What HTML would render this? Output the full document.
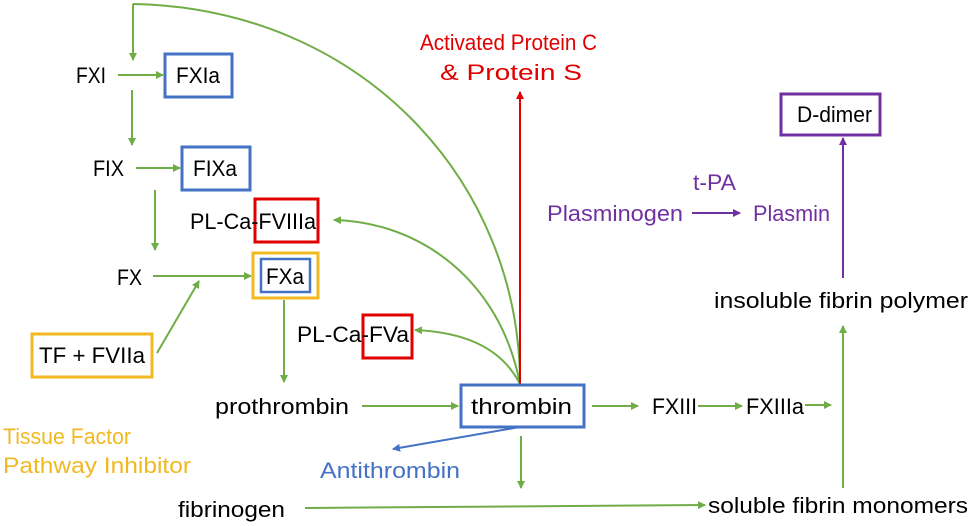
<!DOCTYPE html>
<html><head><meta charset="utf-8"><style>
html,body{margin:0;padding:0;background:#fff;}
svg{display:block;font-family:"Liberation Sans",sans-serif;font-size:22px;}
</style></head><body>
<svg width="973" height="526" viewBox="0 0 973 526" xmlns="http://www.w3.org/2000/svg">
<defs>
<marker id="g" markerWidth="8" markerHeight="8" refX="7" refY="4" orient="auto" markerUnits="userSpaceOnUse"><path d="M0,0 L8,4 L0,8z" fill="#70AD47"/></marker>
<marker id="r" markerWidth="8" markerHeight="8" refX="7" refY="4" orient="auto" markerUnits="userSpaceOnUse"><path d="M0,0 L8,4 L0,8z" fill="#E00000"/></marker>
<marker id="b" markerWidth="8" markerHeight="8" refX="7" refY="4" orient="auto" markerUnits="userSpaceOnUse"><path d="M0,0 L8,4 L0,8z" fill="#4472C4"/></marker>
<marker id="p" markerWidth="8" markerHeight="8" refX="7" refY="4" orient="auto" markerUnits="userSpaceOnUse"><path d="M0,0 L8,4 L0,8z" fill="#7030A0"/></marker>
</defs>
<g fill="none" stroke="#70AD47" stroke-width="2">
<path d="M133,4 L133,60" marker-end="url(#g)"/>
<path d="M133,4 C360,8 520,180 520,384"/>
<path d="M118,75 L163,75" marker-end="url(#g)"/>
<path d="M132,90 L132,145" marker-end="url(#g)"/>
<path d="M136,168 L180,168" marker-end="url(#g)"/>
<path d="M155,190 L155,250" marker-end="url(#g)"/>
<path d="M153,276 L251,276" marker-end="url(#g)"/>
<path d="M157,353 L199,281" marker-end="url(#g)"/>
<path d="M284,300 L284,382" marker-end="url(#g)"/>
<path d="M362,406 L458,406" marker-end="url(#g)"/>
<path d="M592,406 L638,406" marker-end="url(#g)"/>
<path d="M698,406 L742,406" marker-end="url(#g)"/>
<path d="M805,405 L831,405" marker-end="url(#g)"/>
<path d="M843,488 L843,326" marker-end="url(#g)"/>
<path d="M521,436 L521,488" marker-end="url(#g)"/>
<path d="M305,508 L705,505" marker-end="url(#g)"/>
<path d="M520,384 C500,280 420,222 334,220" marker-end="url(#g)"/>
<path d="M520,384 C500,345 460,332 415,330" marker-end="url(#g)"/>
</g>
<path d="M520,384 L520,92" stroke="#E00000" stroke-width="2" fill="none" marker-end="url(#r)"/>
<path d="M520,427 L393,449" stroke="#4472C4" stroke-width="2" fill="none" marker-end="url(#b)"/>
<path d="M692,213 L740,213" stroke="#7030A0" stroke-width="2" fill="none" marker-end="url(#p)"/>
<path d="M843,278 L843,138" stroke="#7030A0" stroke-width="2" fill="none" marker-end="url(#p)"/>
<g fill="#fff" stroke-width="3">
<rect x="165" y="54" width="67" height="43" stroke="#4472C4"/>
<rect x="182" y="147" width="68" height="43" stroke="#4472C4"/>
<rect x="255" y="199" width="63" height="43" stroke="#E00000"/>
<rect x="253" y="253" width="65" height="45" stroke="#F2B822"/>
<rect x="261" y="259" width="49" height="33" stroke="#4472C4" stroke-width="2.5"/>
<rect x="32" y="334" width="120" height="43" stroke="#F2B822"/>
<rect x="363" y="315" width="49" height="43" stroke="#E00000"/>
<rect x="461" y="385" width="123" height="42" stroke="#4472C4"/>
<rect x="781" y="94" width="99" height="41" stroke="#7030A0"/>
</g>
<g fill="#000">
<text x="76" y="83" textLength="30" lengthAdjust="spacingAndGlyphs">FXI</text>
<text x="176" y="83" textLength="44" lengthAdjust="spacingAndGlyphs">FXIa</text>
<text x="93" y="176" textLength="31" lengthAdjust="spacingAndGlyphs">FIX</text>
<text x="193" y="176" textLength="44" lengthAdjust="spacingAndGlyphs">FIXa</text>
<text x="190" y="229" textLength="126" lengthAdjust="spacingAndGlyphs">PL-Ca-FVIIIa</text>
<text x="117" y="285" textLength="25" lengthAdjust="spacingAndGlyphs">FX</text>
<text x="266" y="284" textLength="38" lengthAdjust="spacingAndGlyphs">FXa</text>
<text x="39" y="363" textLength="106" lengthAdjust="spacingAndGlyphs">TF + FVIIa</text>
<text x="297" y="342" textLength="112" lengthAdjust="spacingAndGlyphs">PL-Ca-FVa</text>
<text x="215" y="414" textLength="134" lengthAdjust="spacingAndGlyphs">prothrombin</text>
<text x="471" y="414" textLength="101" lengthAdjust="spacingAndGlyphs">thrombin</text>
<text x="652" y="414" textLength="45" lengthAdjust="spacingAndGlyphs">FXIII</text>
<text x="746" y="414" textLength="58" lengthAdjust="spacingAndGlyphs">FXIIIa</text>
<text x="178" y="517" textLength="107" lengthAdjust="spacingAndGlyphs">fibrinogen</text>
<text x="708" y="513" textLength="260" lengthAdjust="spacingAndGlyphs">soluble fibrin monomers</text>
<text x="714" y="308" textLength="254" lengthAdjust="spacingAndGlyphs">insoluble fibrin polymer</text>
<text x="797" y="122" textLength="75" lengthAdjust="spacingAndGlyphs">D-dimer</text>
</g>
<g fill="#F2B822">
<text x="3" y="444" textLength="128" lengthAdjust="spacingAndGlyphs">Tissue Factor</text>
<text x="3" y="473" textLength="188" lengthAdjust="spacingAndGlyphs">Pathway Inhibitor</text>
</g>
<text x="320" y="478" fill="#4472C4" textLength="140" lengthAdjust="spacingAndGlyphs">Antithrombin</text>
<g fill="#E00000">
<text x="420" y="50" textLength="177" lengthAdjust="spacingAndGlyphs">Activated Protein C</text>
<text x="440" y="80" textLength="142" lengthAdjust="spacingAndGlyphs">&amp; Protein S</text>
</g>
<g fill="#7030A0">
<text x="547" y="221" textLength="136" lengthAdjust="spacingAndGlyphs">Plasminogen</text>
<text x="753" y="221" textLength="77" lengthAdjust="spacingAndGlyphs">Plasmin</text>
<text x="693" y="190" textLength="43" lengthAdjust="spacingAndGlyphs">t-PA</text>
</g>
</svg>
</body></html>
